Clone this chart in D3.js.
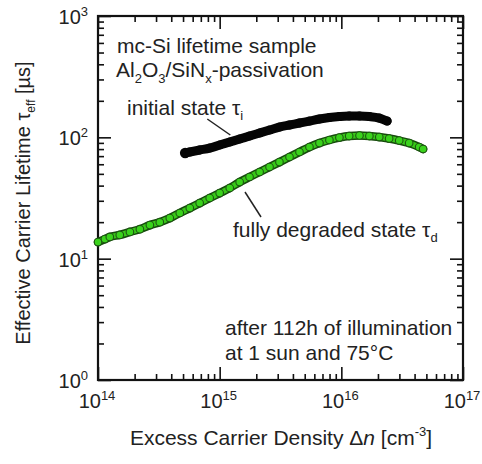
<!DOCTYPE html>
<html><head><meta charset="utf-8">
<script src="https://cdn.jsdelivr.net/npm/d3@7"></script>
<style>
body{margin:0;background:#fff}
svg{display:block}
text{font-family:"Liberation Sans",Arial,Helvetica,sans-serif;fill:#222}
</style>
</head><body>
<svg id="chart" width="482" height="464"></svg>
<script>
// ---- data ----
const xDecades = [14, 15, 16, 17];          // tick labels 10^14 ... 10^17
const yDecades = [0, 1, 2, 3];              // tick labels 10^0 ... 10^3

// fully degraded state tau_d
const degradedN = [1.00e14,1.14e14,1.25e14,1.51e14,1.83e14,2.21e14,2.67e14,3.22e14,3.89e14,4.70e14,
  5.68e14,6.85e14,8.28e14,1.00e15,1.21e15,1.46e15,1.76e15,2.13e15,2.57e15,3.10e15,
  3.75e15,4.53e15,5.47e15,6.61e15,7.98e15,9.64e15,1.16e16,1.41e16,1.70e16,2.05e16,
  2.47e16,2.99e16,3.61e16,4.36e16,4.70e16];
const degradedTau = [13.7,14.5,15.1,15.7,16.6,17.5,18.9,20.0,21.6,23.8,
  26.1,28.7,31.6,34.7,38.2,42.8,47.1,51.8,56.9,62.5,
  68.8,75.7,83.2,89.7,95.1,99.5,102.5,103.5,102.5,100.5,
  97.7,94.1,89.7,83.2,80.1];

// initial state tau_i
const initialN = [5.2e14,5.68e14,6.85e14,8.28e14,1.00e15,1.21e15,1.46e15,1.76e15,2.13e15,2.57e15,
  3.10e15,3.75e15,4.53e15,5.47e15,6.61e15,7.98e15,9.64e15,1.16e16,1.41e16,1.70e16,
  2.05e16,2.38e16];
const initialTau = [74.3,75.7,78.6,81.6,86.4,91.5,96.8,102.5,108.5,114.8,
  121.6,126.3,131.2,136.2,141.5,145.6,148.4,149.9,149.9,148.4,
  144.2,136.2];

// ---- chart ----
const svg = d3.select("#chart");
const W = 482, H = 464;
const m = {left: 98, right: 463, top: 16, bottom: 380};

const x = d3.scaleLog().domain([1e14, 1e17]).range([m.left, m.right]);
const y = d3.scaleLog().domain([1, 1000]).range([m.bottom, m.top]);

const majorX = xDecades.map(e => Math.pow(10, e));
const majorY = yDecades.map(e => Math.pow(10, e));
const minorX = [], minorY = [];
xDecades.slice(0, -1).forEach(e => { for (let k = 2; k <= 9; k++) minorX.push(k * Math.pow(10, e)); });
yDecades.slice(0, -1).forEach(e => { for (let k = 2; k <= 9; k++) minorY.push(k * Math.pow(10, e)); });

function styleAxis(g) {
  g.select(".domain").remove();
  g.selectAll(".tick line").attr("stroke", "#111").attr("stroke-width", 1.6);
  g.selectAll(".tick text").remove();
}
const MAJ = 13, MIN = 6;
// bottom
svg.append("g").attr("transform", `translate(0,${m.bottom})`)
  .call(d3.axisBottom(x).tickValues(majorX).tickSize(-MAJ).tickFormat("")).call(styleAxis);
svg.append("g").attr("transform", `translate(0,${m.bottom})`)
  .call(d3.axisBottom(x).tickValues(minorX).tickSize(-MIN).tickFormat("")).call(styleAxis);
// top
svg.append("g").attr("transform", `translate(0,${m.top})`)
  .call(d3.axisTop(x).tickValues(majorX).tickSize(-MAJ).tickFormat("")).call(styleAxis);
svg.append("g").attr("transform", `translate(0,${m.top})`)
  .call(d3.axisTop(x).tickValues(minorX).tickSize(-MIN).tickFormat("")).call(styleAxis);
// left
svg.append("g").attr("transform", `translate(${m.left},0)`)
  .call(d3.axisLeft(y).tickValues(majorY).tickSize(-MAJ).tickFormat("")).call(styleAxis);
svg.append("g").attr("transform", `translate(${m.left},0)`)
  .call(d3.axisLeft(y).tickValues(minorY).tickSize(-MIN).tickFormat("")).call(styleAxis);
// right
svg.append("g").attr("transform", `translate(${m.right},0)`)
  .call(d3.axisRight(y).tickValues(majorY).tickSize(-MAJ).tickFormat("")).call(styleAxis);
svg.append("g").attr("transform", `translate(${m.right},0)`)
  .call(d3.axisRight(y).tickValues(minorY).tickSize(-MIN).tickFormat("")).call(styleAxis);

// frame
svg.append("rect").attr("x", m.left).attr("y", m.top)
  .attr("width", m.right - m.left).attr("height", m.bottom - m.top)
  .attr("fill", "none").attr("stroke", "#111").attr("stroke-width", 2.2);

// tick labels with superscripts
xDecades.forEach(e => {
  const t = svg.append("text").attr("x", x(Math.pow(10, e)) - 1).attr("y", 408)
    .attr("text-anchor", "middle").attr("font-size", 20);
  t.append("tspan").text("10");
  t.append("tspan").attr("dy", -8).attr("font-size", 13).text(e);
});
yDecades.forEach(e => {
  const t = svg.append("text").attr("x", 88).attr("y", y(Math.pow(10, e)) + 8)
    .attr("text-anchor", "end").attr("font-size", 20);
  t.append("tspan").text("10");
  t.append("tspan").attr("dy", -8).attr("font-size", 13).text(e);
});

// axis titles
const xt = svg.append("text").attr("x", 281).attr("y", 445).attr("text-anchor", "middle").attr("font-size", 21);
xt.append("tspan").text("Excess Carrier Density \u0394");
xt.append("tspan").attr("font-style", "italic").text("n");
xt.append("tspan").text(" [cm");
xt.append("tspan").attr("dy", -9).attr("font-size", 13).text("-3");
xt.append("tspan").attr("dy", 9).text("]");

const yt = svg.append("text").attr("transform", "translate(30,203) rotate(-90)")
  .attr("text-anchor", "middle").attr("font-size", 20);
yt.append("tspan").text("Effective Carrier Lifetime \u03c4");
yt.append("tspan").attr("dy", 5).attr("font-size", 12).text("eff");
yt.append("tspan").attr("dy", -5).text(" [\u00b5s]");

// data marks
const degraded = degradedN.map((n, i) => ({n, t: degradedTau[i]}));
const initial = initialN.map((n, i) => ({n, t: initialTau[i]}));
const line = d3.line().x(d => x(d.n)).y(d => y(d.t)).curve(d3.curveMonotoneX);

// initial state: dense black markers
svg.append("path").datum(initial).attr("d", line)
  .attr("fill", "none").attr("stroke", "#050505").attr("stroke-width", 9).attr("stroke-linecap", "round");
svg.append("g").selectAll("circle").data(initial).join("circle")
  .attr("cx", d => x(d.n)).attr("cy", d => y(d.t)).attr("r", (d, i) => i === 0 ? 5.2 : 4.5)
  .attr("fill", "#050505");

// degraded state: green markers with dark outline
svg.append("path").datum(degraded).attr("d", line)
  .attr("fill", "none").attr("stroke", "#164a0c").attr("stroke-width", 8.5).attr("stroke-linecap", "round");
svg.append("path").datum(degraded).attr("d", line)
  .attr("fill", "none").attr("stroke", "#38c818").attr("stroke-width", 5.5).attr("stroke-linecap", "round");
svg.append("g").selectAll("circle").data(degraded).join("circle")
  .attr("cx", d => x(d.n)).attr("cy", d => y(d.t)).attr("r", 3.8)
  .attr("fill", "#3ad21c").attr("stroke", "#1d5512").attr("stroke-width", 1.1);

// annotations
function ann(xp, yp, parts) {
  const t = svg.append("text").attr("x", xp).attr("y", yp).attr("font-size", 21);
  parts.forEach(p => {
    const s = t.append("tspan").text(p.t);
    if (p.dy) s.attr("dy", p.dy);
    if (p.fs) s.attr("font-size", p.fs);
  });
}
ann(117, 53, [{t: "mc-Si lifetime sample"}]);
ann(116, 77, [{t: "Al"}, {t: "2", dy: 6, fs: 13}, {t: "O", dy: -6}, {t: "3", dy: 6, fs: 13},
  {t: "/SiN", dy: -6}, {t: "x", dy: 6, fs: 13}, {t: "-passivation", dy: -6}]);
ann(127, 115, [{t: "initial state \u03c4"}, {t: "i", dy: 5, fs: 13}]);
ann(233, 237, [{t: "fully degraded state \u03c4"}, {t: "d", dy: 5, fs: 13}]);
ann(225, 335, [{t: "after 112h of illumination"}]);
ann(225, 360, [{t: "at 1 sun and 75\u00b0C"}]);

// leader lines
svg.append("line").attr("x1", x(1.2e15) - 22).attr("y1", 119).attr("x2", x(1.2e15) + 1).attr("y2", 135)
  .attr("stroke", "#222").attr("stroke-width", 1.5);
svg.append("line").attr("x1", 245).attr("y1", 192).attr("x2", 261).attr("y2", 217)
  .attr("stroke", "#222").attr("stroke-width", 1.5);
</script>
</body></html>
